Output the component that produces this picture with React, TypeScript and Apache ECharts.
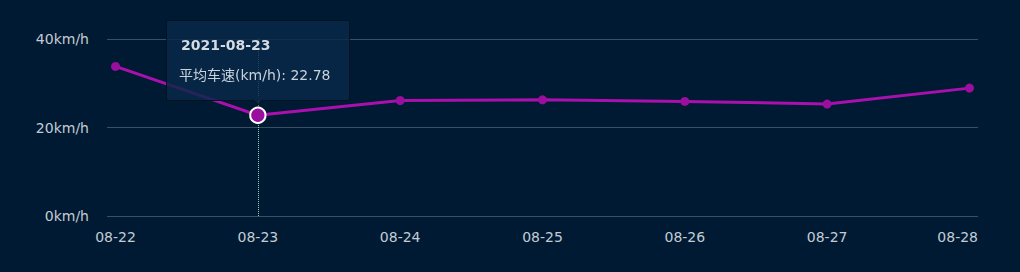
import React, { useEffect, useRef } from 'react';
import * as echarts from 'echarts';

const categories = ['08-22', '08-23', '08-24', '08-25', '08-26', '08-27', '08-28'];
const fullDates = ['2021-08-22', '2021-08-23', '2021-08-24', '2021-08-25', '2021-08-26', '2021-08-27', '2021-08-28'];
const speeds = [33.8, 22.78, 26.1, 26.25, 25.9, 25.3, 28.9];
const yTicks = [0, 20, 40];
const seriesName = '平均车速(km/h)';
const activeIndex = 1;

const FONT = '"DejaVu Sans", "Noto Sans CJK SC", sans-serif';
const PAD = 0.06;

export default function App() {
  const ref = useRef<HTMLDivElement>(null);
  useEffect(() => {
    document.body.style.margin = '0';
    const chart = echarts.init(ref.current!, undefined, { renderer: 'svg' });
    const xMax = categories.length - 1 + PAD;
    const labelValues = categories.map((_, i) => (i === categories.length - 1 ? xMax : i));
    const cssFont = FONT.replace(/"/g, "'");
    chart.setOption({
      animation: false,
      backgroundColor: '#011a33',
      grid: { left: 107, right: 42, top: 39, bottom: 56, containLabel: false, outerBoundsMode: 'none' },
      tooltip: {
        trigger: 'item',
        position: 'top',
        backgroundColor: 'rgba(8, 40, 72, 0.82)',
        borderColor: '#06121f',
        borderWidth: 1,
        padding: [14, 14, 14, 12],
        extraCssText: 'box-shadow:none;border-radius:2px;',
        textStyle: { color: '#c9d3dc', fontSize: 14, fontFamily: FONT },
        formatter: (p: any) =>
          `<div style="font-weight:bold;color:#d3dbe3;margin-bottom:9px;padding-left:2px;font-family:${cssFont}">${fullDates[p.dataIndex]}</div>` +
          `<div style="font-family:${cssFont};padding-right:4px">${seriesName}: ${speeds[p.dataIndex]}</div>`,
      },
      axisPointer: { triggerTooltip: false },
      xAxis: {
        type: 'value',
        min: -PAD,
        max: xMax,
        splitLine: { show: false },
        axisLine: { show: false },
        axisTick: { show: false },
        axisLabel: {
          customValues: labelValues,
          color: '#c3ccd5',
          fontSize: 14,
          fontFamily: FONT,
          margin: 14,
          alignMaxLabel: 'right',
          formatter: (v: number) => categories[Math.min(categories.length - 1, Math.round(v))],
        },
        axisPointer: {
          show: true,
          value: activeIndex,
          status: 'show',
          snap: false,
          z: 1,
          type: 'line',
          label: { show: false },
          lineStyle: { color: '#8fd6a8', type: 'dotted', width: 1 },
        },
      },
      yAxis: {
        type: 'value',
        min: yTicks[0],
        max: yTicks[yTicks.length - 1],
        interval: yTicks[1] - yTicks[0],
        axisLine: { show: false },
        axisTick: { show: false },
        splitLine: { show: true, lineStyle: { color: '#3a4f62', width: 1 } },
        axisLabel: {
          color: '#c3ccd5',
          fontSize: 14,
          fontFamily: FONT,
          margin: 18,
          formatter: '{value}km/h',
        },
      },
      series: [
        {
          type: 'line',
          name: seriesName,
          z: 3,
          data: speeds.map((v, i) => [i, v]),
          symbol: 'circle',
          symbolSize: 9,
          showSymbol: true,
          lineStyle: { color: '#9a0f9e', width: 3 },
          itemStyle: { color: '#9a0f9e' },
          emphasis: {
            scale: 1.7,
            itemStyle: { color: '#9a0f9e', borderColor: '#ffffff', borderWidth: 2 },
          },
        },
      ],
    });
    chart.dispatchAction({ type: 'highlight', seriesIndex: 0, dataIndex: activeIndex });
    chart.dispatchAction({ type: 'showTip', seriesIndex: 0, dataIndex: activeIndex });
    return () => chart.dispose();
  }, []);
  return <div ref={ref} style={{ width: 1020, height: 272 }} />;
}
